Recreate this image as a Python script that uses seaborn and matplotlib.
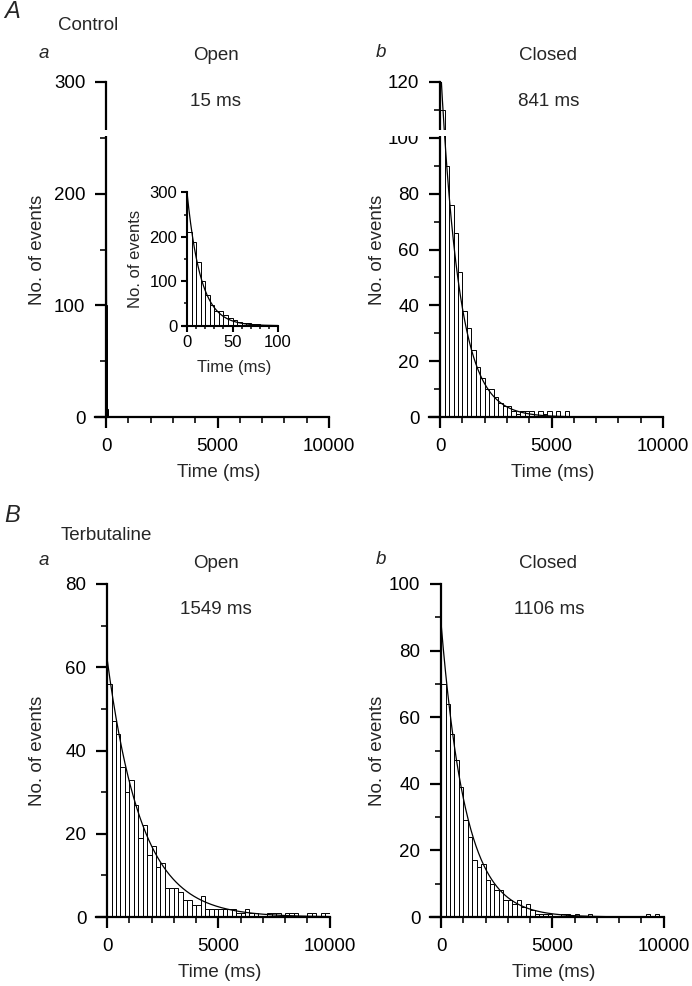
import numpy as np
import pandas as pd
import matplotlib
matplotlib.use('Agg')
import matplotlib.pyplot as plt
from matplotlib.ticker import MultipleLocator
from matplotlib.patches import Rectangle
import seaborn as sns

# --- data (counts per bin) ---
# control, open times: 5 ms bins from 0 to 100 ms
open_ctrl_width = 5
open_ctrl = [210, 189, 144, 100, 70, 46, 34, 32, 24, 18,
             12, 9, 7, 5, 4, 4, 1, 0, 0, 0]
# all other histograms: 200 ms bins from 0 to 10000 ms
bin_width = 200
closed_ctrl = [110, 90, 76, 66, 52, 38, 32, 24, 18, 14,
               10, 10, 7, 5, 4, 4, 2, 1, 2, 2,
               2, 0, 2, 1, 2, 0, 2, 0, 2, 0,
               0, 0, 0, 0, 0, 0, 0, 0, 0, 0,
               0, 0, 0, 0, 0, 0, 0, 0, 0, 0]
open_terb = [56, 47, 44, 36, 30, 33, 27, 19, 22, 15,
             17, 12, 13, 7, 7, 7, 6, 4, 4, 3,
             3, 5, 2, 2, 2, 2, 2, 2, 2, 1,
             1, 2, 1, 1, 0, 0, 1, 1, 1, 0,
             1, 1, 1, 0, 0, 1, 1, 0, 1, 1]
closed_terb = [70, 64, 55, 47, 39, 29, 24, 17, 15, 16,
               11, 10, 8, 8, 5, 5, 4, 5, 3, 4,
               2, 1, 1, 1, 1, 0, 0, 1, 1, 0,
               1, 0, 0, 1, 0, 0, 0, 0, 0, 0,
               0, 0, 0, 0, 0, 0, 1, 0, 1, 0]

tau_values = [15, 841, 1549, 1106]
fit_amps = [300, 128, 62, 88]
tau_labels = ['15 ms', '841 ms', '1549 ms', '1106 ms']

sns.set_style('ticks')
plt.rcParams['font.family'] = ['Liberation Sans', 'DejaVu Sans']

W, H = 692, 986
fig = plt.figure(figsize=(W / 100, H / 100), dpi=100)


def px_axes(left, top, right, bottom):
    return fig.add_axes([left / W, 1 - bottom / H, (right - left) / W, (bottom - top) / H])


def px_text(x, y, s, **kw):
    fig.text(x / W, 1 - y / H, s, ha='center', va='center', **kw)


def style_axis(ax, xmin, xmax, xmajor, xminor, ymax, ymajor, yminor,
               fs=13.5, big=8, small=4.5, pad=7, lw=1.6):
    ax.set_xlim(xmin, xmax)
    ax.set_ylim(0, ymax)
    sns.despine(ax=ax)
    ax.spines['left'].set_position(('data', 0))
    for s in ['left', 'bottom']:
        ax.spines[s].set_linewidth(lw)
        ax.spines[s].set_color('black')
    ax.xaxis.set_major_locator(MultipleLocator(xmajor))
    ax.xaxis.set_minor_locator(MultipleLocator(xminor))
    ax.yaxis.set_major_locator(MultipleLocator(ymajor))
    ax.yaxis.set_minor_locator(MultipleLocator(yminor))
    ax.tick_params(which='major', direction='out', length=big, width=lw,
                   labelsize=fs, pad=pad, colors='black')
    ax.tick_params(which='minor', direction='out', length=small, width=lw * 0.85)
    ax.set_facecolor('none')


def draw_hist(ax, counts, width, amp, tau, tmax):
    edges = [i * width for i in range(len(counts) + 1)]
    centers = [e + width / 2 for e in edges[:-1]]
    df = pd.DataFrame({'t': centers, 'n': counts})
    sns.histplot(data=df, x='t', weights='n', bins=edges, ax=ax,
                 color='white', edgecolor='black', linewidth=0.7, alpha=1)
    t = np.linspace(0, tmax, 600)
    ax.plot(t, amp * np.exp(-t / tau), color='black', lw=0.9, zorder=5)


panels = [
    # rect, counts, width, ymax, ystep, fit index, label x
    ((95, 82, 329, 417), open_ctrl, open_ctrl_width, 300, 100, 0, -0.209),
    ((429, 82, 663, 417), closed_ctrl, bin_width, 120, 20, 1, -0.184),
    ((96, 584, 329.5, 917), open_terb, bin_width, 80, 20, 2, -0.214),
    ((430, 584, 663.5, 917), closed_terb, bin_width, 100, 20, 3, -0.188),
]

for rect, counts, width, ymax, ystep, k, ylab_x in panels:
    ax = px_axes(*rect)
    draw_hist(ax, counts, width, fit_amps[k], tau_values[k], 10000)
    style_axis(ax, -500, 10000, 5000, 1000, ymax, ystep, ystep / 2)
    ax.set_xlabel('Time (ms)', fontsize=13.5)
    ax.set_ylabel('No. of events', fontsize=13.5)
    ax.yaxis.set_label_coords(ylab_x, 0.5)
    ax.xaxis.set_label_coords(0.53, -0.141)

# inset with the short open times (control)
axi = px_axes(183, 192.3, 278, 325.7)
draw_hist(axi, open_ctrl, open_ctrl_width, fit_amps[0], tau_values[0], 100)
style_axis(axi, -4.4, 100, 50, 10, 300, 100, 50, fs=12, big=4, small=2.5, pad=3, lw=1.5)
axi.set_xlabel('Time (ms)', fontsize=12)
axi.set_ylabel('No. of events', fontsize=12)
axi.yaxis.set_label_coords(-0.416, 0.5)
axi.xaxis.set_label_coords(0.534, -0.257)

# thin white gap across the top row (as in the scanned original)
fig.patches.append(Rectangle((0, 1 - 136 / H), 1, 6 / H, transform=fig.transFigure,
                             facecolor='white', edgecolor='none', zorder=10))

# annotations
px_text(12, 11.5, 'A', fontsize=17, style='italic')
px_text(88.5, 25, 'Control', fontsize=13.5)
px_text(44, 54, 'a', fontsize=13.5, style='italic')
px_text(216, 55.5, 'Open', fontsize=13.5)
px_text(216, 101.5, tau_labels[0], fontsize=13.5)
px_text(381, 52.5, 'b', fontsize=13.5, style='italic')
px_text(548.5, 56, 'Closed', fontsize=13.5)
px_text(548.5, 101.5, tau_labels[1], fontsize=13.5)

px_text(12, 515.5, 'B', fontsize=17, style='italic')
px_text(106.5, 535, 'Terbutaline', fontsize=13.5)
px_text(44, 560.5, 'a', fontsize=13.5, style='italic')
px_text(216, 563, 'Open', fontsize=13.5)
px_text(216, 610, tau_labels[2], fontsize=13.5)
px_text(381, 560, 'b', fontsize=13.5, style='italic')
px_text(548.5, 563, 'Closed', fontsize=13.5)
px_text(549.5, 610, tau_labels[3], fontsize=13.5)

fig.savefig('out.png', dpi=100, facecolor='white')
